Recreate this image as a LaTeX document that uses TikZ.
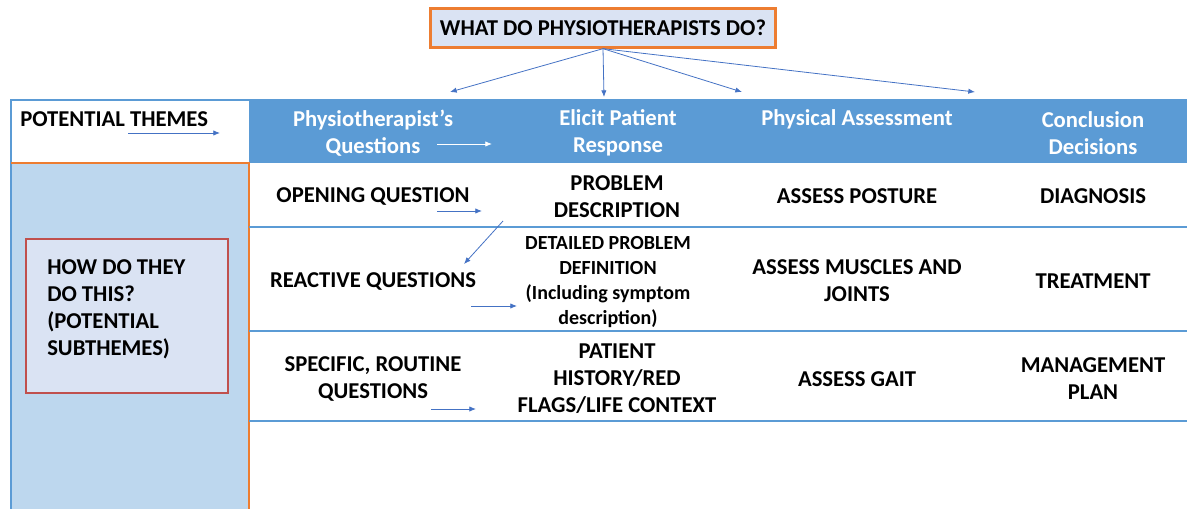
\documentclass[tikz,border=0pt]{standalone}
\usepackage{fontspec}
\setmainfont{Carlito}
\usetikzlibrary{arrows.meta}

\definecolor{hdrblue}{HTML}{5B9BD5}
\definecolor{colblue}{HTML}{BDD7EE}
\definecolor{boxfill}{HTML}{DAE3F3}
\definecolor{titleorange}{HTML}{ED7D31}
\definecolor{boxred}{HTML}{C0504D}
\definecolor{arrblue}{HTML}{4472C4}
\definecolor{rowline}{HTML}{5B9BD5}

\tikzset{
  cell/.style={font=\bfseries\fontsize{17}{20.25}\selectfont, align=center, inner sep=0pt},
  smallcell/.style={cell, font=\bfseries\fontsize{15}{18.75}\selectfont},
  head/.style={cell, text=white},
  arr/.style={draw=arrblue, line width=0.6pt, -{Latex[length=5pt,width=4pt]}},
}

\begin{document}
\begin{tikzpicture}[x=0.75pt, y=-0.75pt]
\useasboundingbox (0,0) rectangle (1187,509);

% table background
\fill[white] (11,100) rectangle (249,163);
\fill[hdrblue] (249,100) rectangle (1187,163);
\fill[colblue] (11,163) rectangle (249,509);
\draw[rowline, line width=1pt] (11,509) -- (11,100) -- (1187,100);
\draw[titleorange, line width=1pt] (11,163) -- (249,163) -- (249,509);
\foreach \y in {227,331,421}
  \draw[rowline, line width=1pt] (249,\y) -- (1187,\y);

% title
\node[cell, draw=titleorange, line width=2pt, fill=boxfill, minimum width=259pt, minimum height=29pt] (title) at (603,28) {WHAT DO PHYSIOTHERAPISTS DO?};

% subthemes box
\draw[boxred, line width=1.5pt, fill=boxfill] (26,239) rectangle (228,393);
\node[cell, align=left, anchor=west] (how) at (47,309) {HOW DO THEY\\DO THIS?\\(POTENTIAL\\SUBTHEMES)};

% header row
\node[cell, anchor=west] (themes) at (20,119) {POTENTIAL THEMES};
\node[head] (h1) at (373,133) {Physiotherapist’s\\Questions};
\node[head] (h2) at (618,133) {Elicit Patient\\Response};
\node[head] (h3) at (857,119) {Physical Assessment};
\node[head] (h4) at (1093,133) {Conclusion\\Decisions};

% row 1
\node[cell] (q1) at (373,196) {OPENING QUESTION};
\node[cell] (r1) at (617,197) {PROBLEM\\DESCRIPTION};
\node[cell] (a1) at (857,196) {ASSESS POSTURE};
\node[cell] (c1) at (1093,196) {DIAGNOSIS};

% row 2
\node[cell] (q2) at (373,281) {REACTIVE QUESTIONS};
\node[smallcell] (r2) at (608,282) {DETAILED PROBLEM\\DEFINITION\\(Including symptom\\description)};
\node[cell] (a2) at (857,281) {ASSESS MUSCLES AND\\JOINTS};
\node[cell] (c2) at (1093,281) {TREATMENT};

% row 3
\node[cell] (q3) at (373,379) {SPECIFIC, ROUTINE\\QUESTIONS};
\node[cell] (r3) at (617,379) {PATIENT\\HISTORY/RED\\FLAGS/LIFE CONTEXT};
\node[cell] (a3) at (857,379) {ASSESS GAIT};
\node[cell] (c3) at (1093,379) {MANAGEMENT\\PLAN};

% arrow ends
\coordinate (t1) at (450,92);
\coordinate (t2) at (604,97);
\coordinate (t3) at (742,92);
\coordinate (t4) at (975,92);
\coordinate (pa) at (128,133);
\coordinate (pb) at (220,133);
\coordinate (ha) at (437,144);
\coordinate (hb) at (492,144);
\coordinate (oa) at (437,211);
\coordinate (ob) at (482,211);
\coordinate (da) at (503,221);
\coordinate (db) at (464,264);
\coordinate (ra) at (471,306);
\coordinate (rb) at (517,306);
\coordinate (sa) at (431,409);
\coordinate (sb) at (476,409);

\draw[arr] (title.south) -- (t1);
\draw[arr] (title.south) -- (t2);
\draw[arr] (title.south) -- (t3);
\draw[arr] (title.south) -- (t4);
\draw[arr] (pa) -- (pb);
\draw[arr, draw=white] (ha) -- (hb);
\draw[arr] (oa) -- (ob);
\draw[arr] (da) -- (db);
\draw[arr] (ra) -- (rb);
\draw[arr] (sa) -- (sb);
\end{tikzpicture}
\end{document}
